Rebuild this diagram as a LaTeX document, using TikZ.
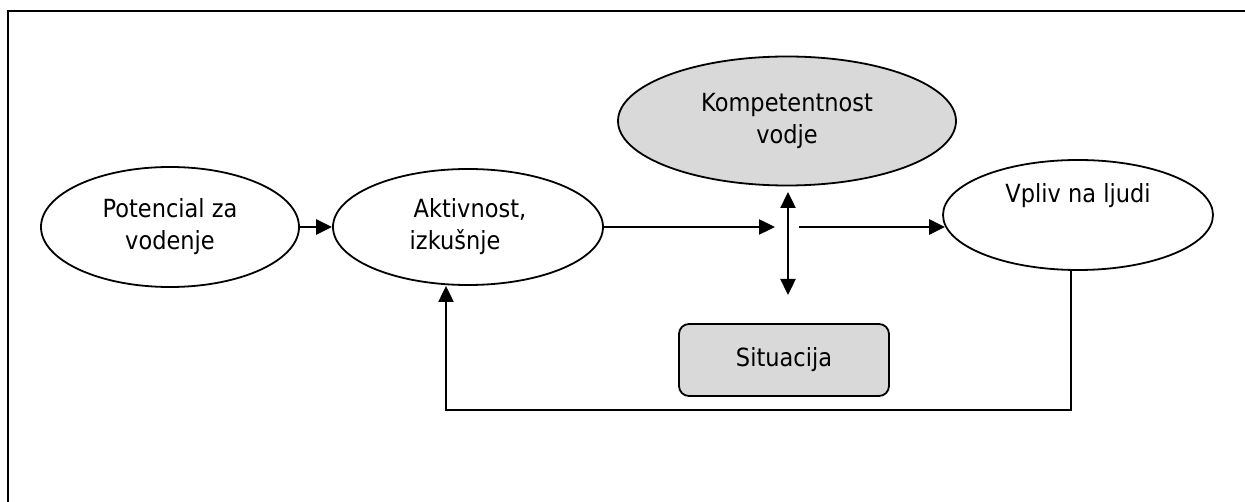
\documentclass[tikz,border=0pt]{standalone}
\usepackage{fontspec}
\setmainfont{DejaVu Sans}[FakeStretch=0.9]
\usetikzlibrary{arrows.meta,shapes.geometric}
\definecolor{boxgray}{RGB}{217,217,217}
\begin{document}
\begin{tikzpicture}[x=1pt,y=-1pt,
  every node/.style={font=\fontsize{25}{32}\selectfont, inner sep=0pt},
  oval/.style={draw, ellipse, line width=1.8pt, align=center},
  roundbox/.style={draw, rounded corners=10pt, line width=1.8pt, fill=boxgray},
  conn/.style={line width=2.4pt, -{Triangle[length=16pt,width=15pt]}},
  bothconn/.style={line width=2.4pt, {Triangle[length=16pt,width=15pt]}-{Triangle[length=16pt,width=15pt]}},
  loopline/.style={line width=2pt, -{Triangle[length=16pt,width=15pt]}},
  frame/.style={line width=2.6pt}]
  \useasboundingbox (0,0) rectangle (1245,502);
  \clip (0,0) rectangle (1245,502);

  % outer frame (runs past the page on the right and bottom)
  \draw[frame] (8,520) -- (8,11) -- (1260,11);

  % model elements
  \node[oval, minimum width=258pt, minimum height=120pt] (pot) at (170,227)
    {\raisebox{-4pt}{Potencial za}\\\raisebox{-4pt}{vodenje}};
  \node[oval, minimum width=270pt, minimum height=116pt, align=left] (akt) at (468,227)
    {\raisebox{-4pt}{\hspace{4pt}Aktivnost,}\\\raisebox{-4pt}{izkušnje}};
  \node[oval, fill=boxgray, minimum width=338pt, minimum height=129pt] (kom) at (787,121)
    {Kompetentnost\\vodje};
  \node[oval, minimum width=270pt, minimum height=110pt,
        text height=18pt, text depth=42pt] (vpl) at (1078,215) {Vpliv na ljudi};
  \node[roundbox, minimum width=210pt, minimum height=72pt] (sit) at (784,360) {Situacija};

  % junction points of the central cross
  \coordinate (midL) at (775,227);
  \coordinate (midR) at (799,227);
  \coordinate (vtop) at (788,192);
  \coordinate (vbot) at (788,295);
  % corners of the feedback loop
  \coordinate (loopR) at (1071,410);
  \coordinate (loopL) at (446,410);

  % connectors
  \draw[conn] (pot) -- (akt);
  \draw[conn] (akt.east) -- (midL);
  \draw[conn] (midR) -- (midR -| vpl.185);
  \draw[bothconn] (vtop) -- (vbot);
  \draw[loopline] ([xshift=-7pt]vpl.south) -- (loopR) -- (loopL) -- ([xshift=-22pt]akt.south);
\end{tikzpicture}
\end{document}
